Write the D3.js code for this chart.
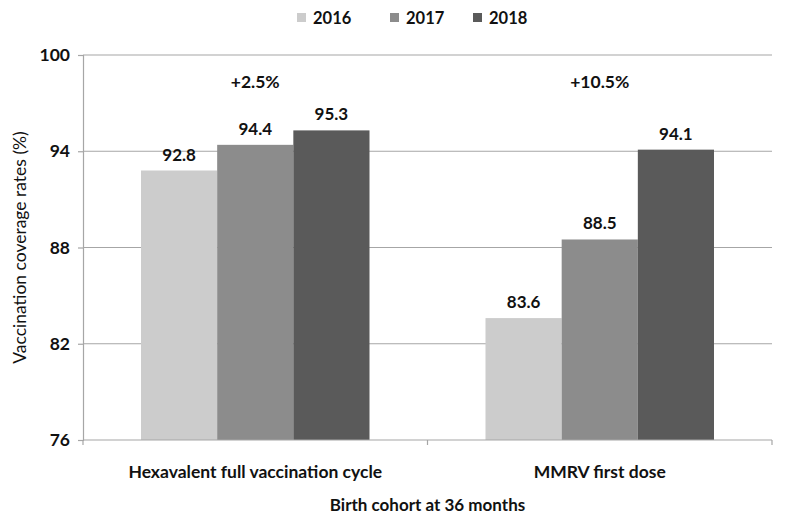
<!DOCTYPE html>
<html><head><meta charset="utf-8">
<script src="https://cdn.jsdelivr.net/npm/d3@7"></script>
<style>body{margin:0;background:#fff}</style>
</head><body>
<svg id="c" width="788" height="526"></svg>
<script>
const categories = ["Hexavalent full vaccination cycle", "MMRV first dose"];
const years = ["2016", "2017", "2018"];
const values2016 = [92.8, 83.6];
const values2017 = [94.4, 88.5];
const values2018 = [95.3, 94.1];
const changes = ["+2.5%", "+10.5%"];
const yTicks = [76, 82, 88, 94, 100];
const colors = ["#cccccc", "#8c8c8c", "#5a5a5a"];

const series = [values2016, values2017, values2018];
const font = "Lato, 'Open Sans', sans-serif";
const svg = d3.select("#c");
const m = {l: 83, r: 772, t: 55, b: 440};

const x0 = d3.scaleBand().domain(categories).range([m.l, m.r]).paddingInner(0).paddingOuter(0);
const x1 = d3.scaleBand().domain(years).range([58, x0.bandwidth() - 58]);
const y = d3.scaleLinear().domain([76, 100]).range([m.b, m.t]);

// gridlines
svg.append("g").selectAll("line").data(yTicks.filter(t => t > 76)).join("line")
  .attr("x1", m.l).attr("x2", m.r).attr("y1", d => y(d)).attr("y2", d => y(d))
  .attr("stroke", "#a6a6a6").attr("stroke-width", 1.2);

// bars
const g = svg.append("g");
categories.forEach((c, ci) => {
  years.forEach((yr, si) => {
    const v = series[si][ci];
    const bx = x0(c) + x1(yr);
    g.append("rect").attr("x", bx).attr("y", y(v)).attr("width", x1.bandwidth())
      .attr("height", y(76) - y(v)).attr("fill", colors[si]);
    g.append("text").attr("x", bx + x1.bandwidth() / 2).attr("y", y(v) - 10)
      .attr("text-anchor", "middle").attr("font-family", font).attr("font-weight", "bold")
      .attr("font-size", 17).attr("fill", "#111").text(v.toFixed(1));
  });
  svg.append("text").attr("x", x0(c) + x0.bandwidth() / 2).attr("y", 88)
    .attr("text-anchor", "middle").attr("font-family", font).attr("font-weight", "bold")
    .attr("font-size", 17.5).attr("fill", "#111").text(changes[ci]);
});

// y axis
const yAxis = svg.append("g").attr("transform", `translate(${m.l},0)`)
  .call(d3.axisLeft(y).tickValues(yTicks).tickSize(5).tickPadding(8));
yAxis.select(".domain").attr("stroke", "#a6a6a6").attr("stroke-width", 1.2);
yAxis.selectAll(".tick line").attr("stroke", "#a6a6a6").attr("stroke-width", 1.2);
yAxis.selectAll("text").attr("font-family", font).attr("font-weight", "bold")
  .attr("font-size", 17.5).attr("fill", "#111");

// x axis
const xAxis = svg.append("g").attr("transform", `translate(0,${m.b})`);
xAxis.append("line").attr("x1", m.l).attr("x2", m.r).attr("stroke", "#a6a6a6").attr("stroke-width", 1.2);
const bounds = [m.l, x0(categories[1]), m.r];
xAxis.selectAll("line.tk").data(bounds).join("line").attr("class", "tk")
  .attr("x1", d => d).attr("x2", d => d).attr("y1", 0).attr("y2", 5)
  .attr("stroke", "#a6a6a6").attr("stroke-width", 1.2);
xAxis.selectAll("text").data(categories).join("text")
  .attr("x", d => x0(d) + x0.bandwidth() / 2).attr("y", 38)
  .attr("text-anchor", "middle").attr("font-family", font).attr("font-weight", "bold")
  .attr("font-size", 17.5).attr("fill", "#111").text(d => d);

svg.append("text").attr("x", (m.l + m.r) / 2).attr("y", 511).attr("text-anchor", "middle")
  .attr("font-family", font).attr("font-weight", "bold").attr("font-size", 17)
  .attr("fill", "#111").text("Birth cohort at 36 months");

svg.append("text").attr("transform", `translate(26,${(m.t + m.b) / 2}) rotate(-90)`)
  .attr("text-anchor", "middle").attr("font-family", font).attr("font-size", 17.5)
  .attr("fill", "#111").text("Vaccination coverage rates (%)");

// legend
const legX = [297, 390, 473];
years.forEach((yr, i) => {
  svg.append("rect").attr("x", legX[i]).attr("y", 13).attr("width", 9).attr("height", 9).attr("fill", colors[i]);
  svg.append("text").attr("x", legX[i] + 16).attr("y", 24).attr("font-family", font)
    .attr("font-weight", "bold").attr("font-size", 16.5).attr("fill", "#111").text(yr);
});
</script>
</body></html>
